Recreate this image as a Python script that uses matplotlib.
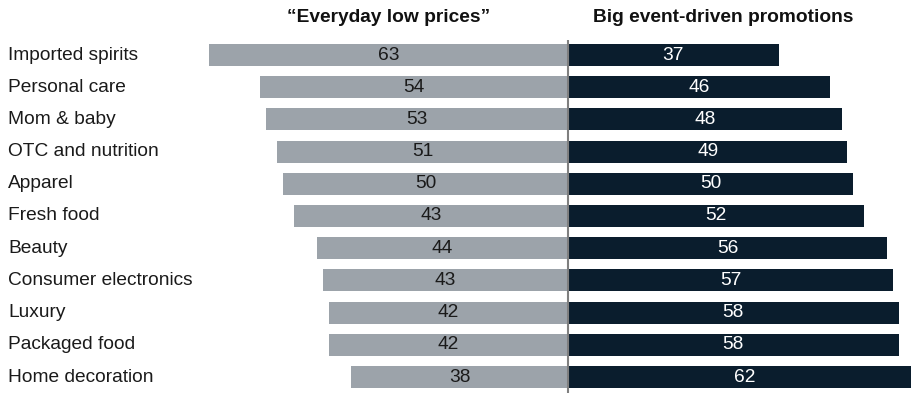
import matplotlib
matplotlib.use("Agg")
import matplotlib.pyplot as plt
import matplotlib.transforms as mtransforms

categories = ["Imported spirits", "Personal care", "Mom & baby", "OTC and nutrition",
              "Apparel", "Fresh food", "Beauty", "Consumer electronics", "Luxury",
              "Packaged food", "Home decoration"]
left_bar = [63, 54, 53, 51, 50, 48, 44, 43, 42, 42, 38]
left_labels = [63, 54, 53, 51, 50, 43, 44, 43, 42, 42, 38]
right_values = [37, 46, 48, 49, 50, 52, 56, 57, 58, 58, 62]
titles = ["\u201cEveryday low prices\u201d", "Big event-driven promotions"]

plt.rcParams['font.family'] = ['Liberation Sans', 'DejaVu Sans']

W, H = 911, 393
fig = plt.figure(figsize=(W / 100, H / 100), dpi=100)
ax = fig.add_axes([0, 0, 1, 1])

center_px = 568
scale = 5.70  # px per unit
ax.set_xlim(-center_px / scale, (W - center_px) / scale)
row0, step = 55, 32.2
ax.set_ylim((H - row0) / step, -row0 / step)
ax.axis('off')

grey = '#9CA3AA'
navy = '#0A1D2D'
y = list(range(len(categories)))
ax.barh(y, [-v for v in left_bar], height=0.68, color=grey)
ax.barh(y, right_values, height=0.68, color=navy)

fs = 13.8
label_tf = mtransforms.blended_transform_factory(
    mtransforms.Affine2D().scale(1 / W, 1) + ax.transAxes, ax.transData)
for i, cat in enumerate(categories):
    ax.text(8, i, cat, transform=label_tf,
            ha='left', va='center', fontsize=fs, color='#1a1a1a')
    ax.text(-left_bar[i] / 2, i, str(left_labels[i]), ha='center', va='center',
            fontsize=fs, color='#1a1a1a')
    ax.text(right_values[i] / 2, i, str(right_values[i]), ha='center', va='center',
            fontsize=fs, color='white')

# divider
ax.plot([0, 0], [(40 - row0) / step, (H - row0) / step], color='#7f7f7f', lw=1.5,
        solid_capstyle='butt', clip_on=False)

ax.text((389 - center_px) / scale, (18 - row0) / step, titles[0], ha='center', va='center',
        fontsize=fs, fontweight='bold', color='#111111')
ax.text((723 - center_px) / scale, (18 - row0) / step, titles[1], ha='center', va='center',
        fontsize=fs, fontweight='bold', color='#111111')

fig.savefig('out.png', dpi=100)
